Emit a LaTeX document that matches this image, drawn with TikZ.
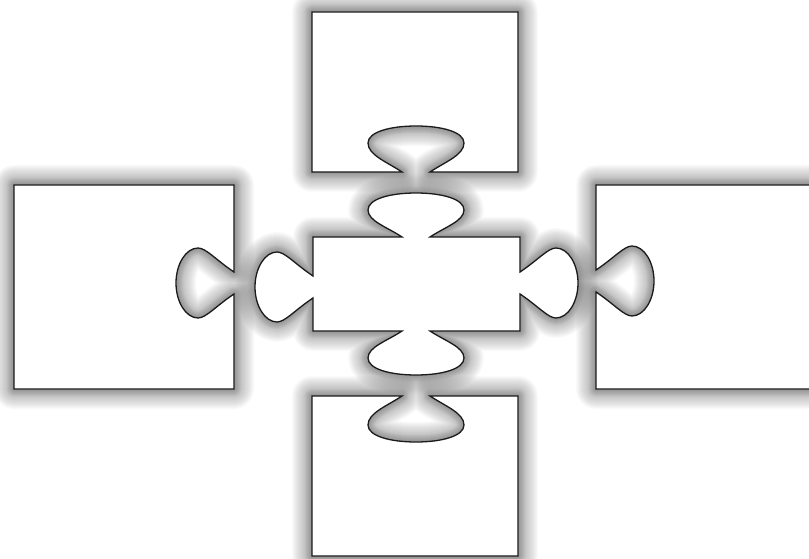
\documentclass[tikz,border=0pt]{standalone}
\usepackage{xcolor}
\definecolor{edge800}{HTML}{1A1A1A}
\definecolor{paper100}{HTML}{FFFFFF}
\usepackage{tikz}

% ── Piece Outlines (pixel units, y downwards) ──
\newcommand{\pieceTop}{(312,12) -- (518,12) -- (518,172) -- (430,172)
    .. controls (445,162) and (464,155) .. (464,143)
    .. controls (464,132) and (442,126) .. (416,126)
    .. controls (390,126) and (368,132) .. (368,143)
    .. controls (368,155) and (387,162) .. (402,172)
    -- (312,172) -- cycle}
\newcommand{\pieceBottom}{(312,396) -- (402,396)
    .. controls (387,406) and (368,413) .. (368,425)
    .. controls (368,436) and (390,442) .. (416,442)
    .. controls (442,442) and (464,436) .. (464,425)
    .. controls (464,413) and (445,406) .. (430,396)
    -- (518,396) -- (518,556) -- (312,556) -- cycle}
\newcommand{\pieceLeft}{(14,185) -- (234,185) -- (234,272)
    .. controls (216,260) and (206,248) .. (198,248)
    .. controls (186,248) and (176,264) .. (176,283)
    .. controls (176,302) and (186,318) .. (198,318)
    .. controls (206,318) and (216,306) .. (234,294)
    -- (234,389) -- (14,389) -- cycle}
\newcommand{\pieceRight}{(830,185) -- (596,185) -- (596,270)
    .. controls (614,258) and (624,246) .. (632,246)
    .. controls (644,246) and (654,262) .. (654,281)
    .. controls (654,300) and (644,316) .. (632,316)
    .. controls (624,316) and (614,304) .. (596,292)
    -- (596,389) -- (830,389) -- cycle}
\newcommand{\pieceCenter}{(313,237) -- (402,237)
    .. controls (387,227) and (368,221) .. (368,210)
    .. controls (368,199) and (390,193) .. (416,193)
    .. controls (442,193) and (464,199) .. (464,210)
    .. controls (464,221) and (445,227) .. (430,237)
    -- (520,237) -- (520,272)
    .. controls (538,260) and (548,248) .. (556,248)
    .. controls (568,248) and (578,264) .. (578,283)
    .. controls (578,302) and (568,318) .. (556,318)
    .. controls (548,318) and (538,306) .. (520,294)
    -- (520,331) -- (430,331)
    .. controls (445,341) and (464,347) .. (464,358)
    .. controls (464,369) and (442,375) .. (416,375)
    .. controls (390,375) and (368,369) .. (368,358)
    .. controls (368,347) and (387,341) .. (402,331)
    -- (313,331) -- (313,298)
    .. controls (295,310) and (285,322) .. (277,322)
    .. controls (265,322) and (255,306) .. (255,287)
    .. controls (255,268) and (265,252) .. (277,252)
    .. controls (285,252) and (295,264) .. (313,276)
    -- cycle}

\begin{document}
\begin{tikzpicture}[
    x=1pt, y=-1pt,
    piece/.style={draw=edge800, fill=paper100, line width=1.3pt, line join=miter},
    halo/.style={draw=black, opacity=0.02, line join=round}
]
\useasboundingbox (0,0) rectangle (809,559);
\clip (0,0) rectangle (809,559);

% ── Soft Halo ──
\foreach \w in {2,4,...,40,2,4,...,14} {
    \draw[halo, line width=\w pt] \pieceTop;
    \draw[halo, line width=\w pt] \pieceBottom;
    \draw[halo, line width=\w pt] \pieceLeft;
    \draw[halo, line width=\w pt] \pieceRight;
    \draw[halo, line width=\w pt] \pieceCenter;
}

% ── Outer Pieces ──
\draw[piece] \pieceTop;
\draw[piece] \pieceBottom;
\draw[piece] \pieceLeft;
\draw[piece] \pieceRight;

% ── Center Piece ──
\draw[piece] \pieceCenter;

\end{tikzpicture}
\end{document}
